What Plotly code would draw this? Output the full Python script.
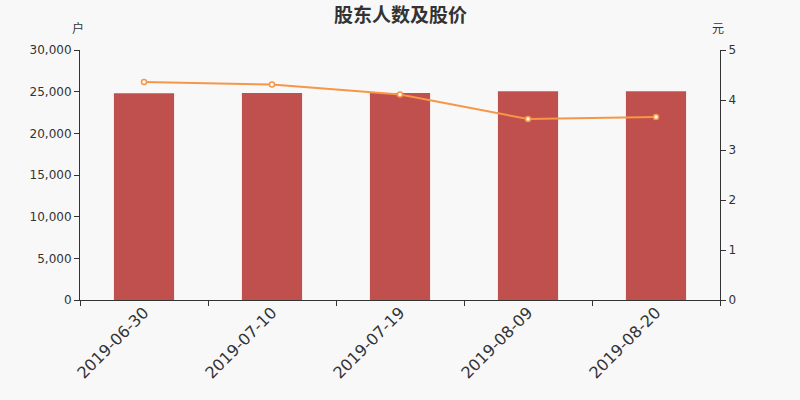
import plotly.graph_objects as go

dates = ["2019-06-30", "2019-07-10", "2019-07-19", "2019-08-09", "2019-08-20"]
holders = [24800, 24830, 24850, 25040, 25050]
prices = [4.36, 4.31, 4.11, 3.62, 3.66]

title = "股东人数及股价"
left_unit = "户"
right_unit = "元"

font_family = "DejaVu Sans, Noto Sans CJK SC, sans-serif"
cjk = "Noto Sans CJK SC, sans-serif"
txt = "#333333"

fig = go.Figure()
fig.add_trace(go.Bar(x=dates, y=holders, marker=dict(color="#c0504d", line=dict(width=0)),
                     yaxis="y", name="股东人数"))
fig.add_trace(go.Scatter(x=dates, y=prices, yaxis="y2", mode="lines+markers",
                         line=dict(color="#f79646", width=2),
                         marker=dict(size=5, color="white", line=dict(color="#f79646", width=1.5)),
                         name="股价"))

fig.update_layout(
    width=800, height=400,
    margin=dict(l=80, r=80, t=50, b=100, autoexpand=False),
    paper_bgcolor="#f8f8f8", plot_bgcolor="#f8f8f8",
    showlegend=False,
    bargap=0.53,
    font=dict(family=font_family, color=txt, size=12),
    xaxis=dict(type="category", showgrid=False, showline=True, linecolor=txt, linewidth=1,
               ticks="outside", tickson="boundaries", ticklen=5, tickcolor=txt,
               tickangle=-45, tickfont=dict(size=16, color=txt), zeroline=False,
               automargin=False, ticklabelstandoff=-4),
    yaxis=dict(range=[0, 30000], dtick=5000, tickformat=",", showgrid=False, showline=True,
               linecolor=txt, linewidth=1, ticks="outside", ticklen=5, tickcolor=txt,
               zeroline=False, tickfont=dict(size=12, color=txt), automargin=False),
    yaxis2=dict(range=[0, 5], dtick=1, overlaying="y", side="right", showgrid=False,
                showline=True, linecolor=txt, linewidth=1, ticks="outside", ticklen=5,
                tickcolor=txt, zeroline=False, tickfont=dict(size=12, color=txt),
                automargin=False),
    annotations=[
        dict(text="<b>" + title + "</b>", xref="paper", yref="paper", x=0.5, y=1.148,
             showarrow=False, xanchor="center", yanchor="middle",
             font=dict(size=19, color=txt, family=cjk)),
        dict(text=left_unit, xref="paper", yref="paper", x=-0.003, y=1.088, showarrow=False,
             xanchor="center", yanchor="middle", font=dict(size=12, color=txt, family=cjk)),
        dict(text=right_unit, xref="paper", yref="paper", x=0.997, y=1.088, showarrow=False,
             xanchor="center", yanchor="middle", font=dict(size=12, color=txt, family=cjk)),
    ],
)

fig.write_html("out.html", config={"displayModeBar": False},
               post_script="document.body.style.margin='0';document.body.style.padding='0';")
